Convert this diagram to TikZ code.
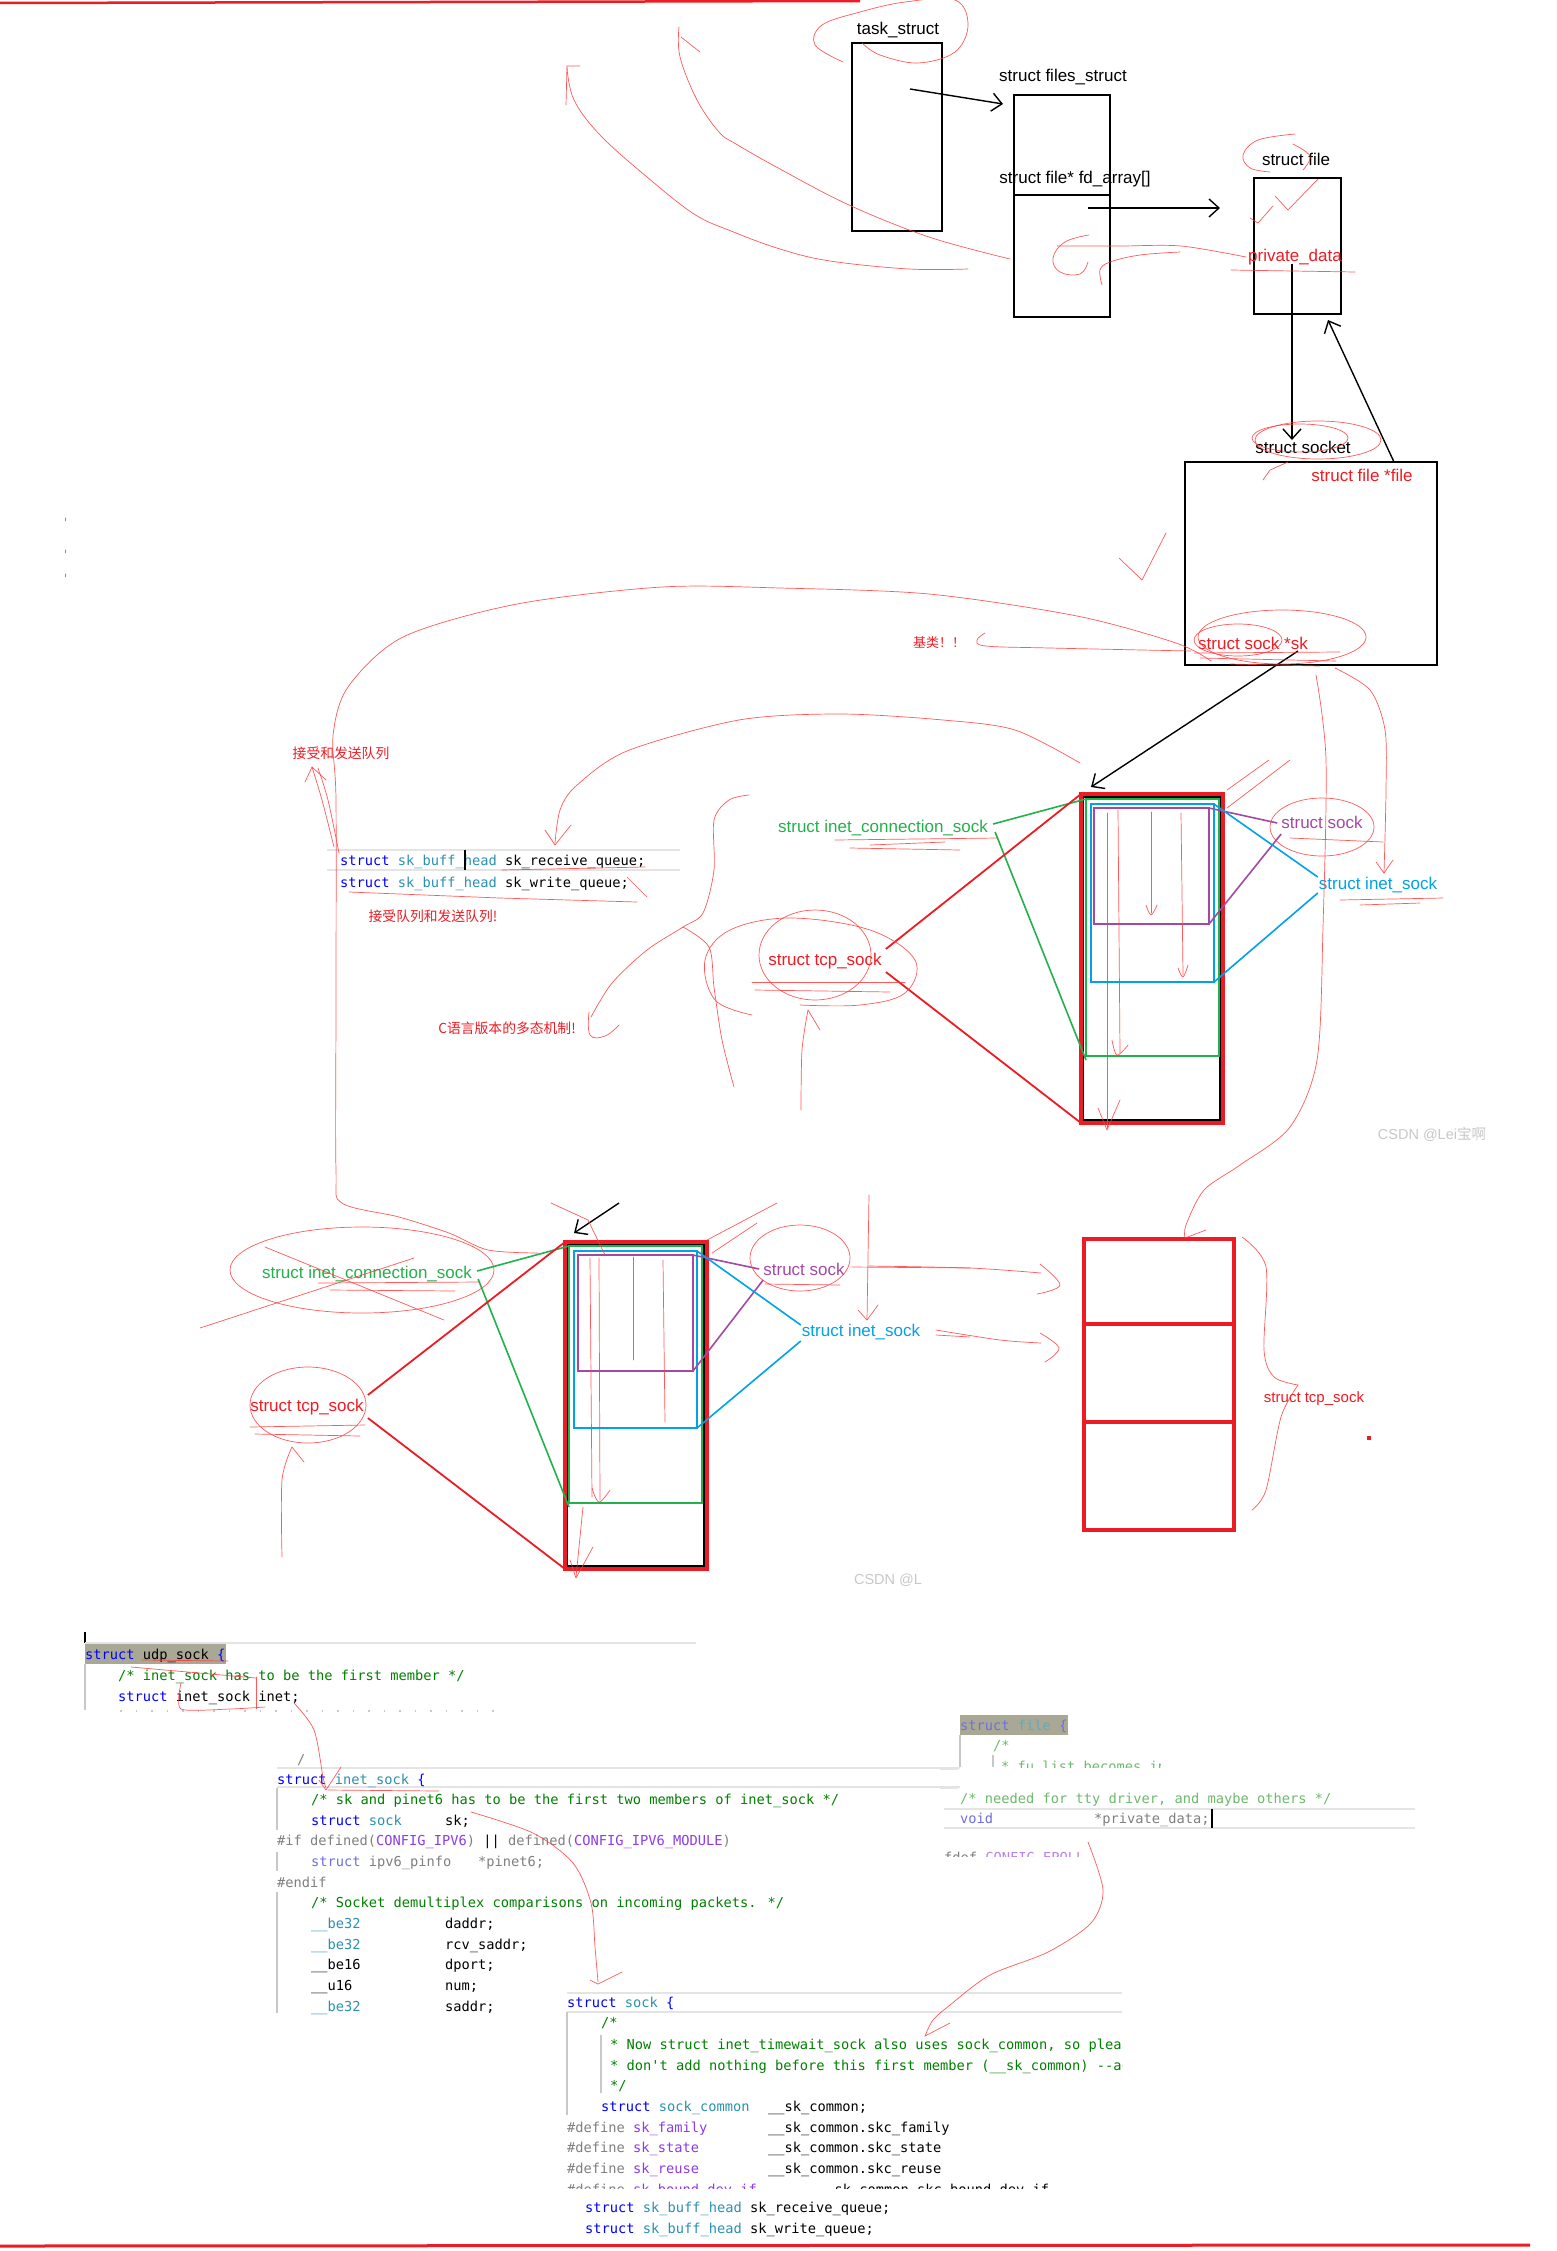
\documentclass[tikz,border=0pt]{standalone}
\usepackage{fontspec}
\setmainfont{Liberation Sans}
\newfontfamily\cjk{Noto Sans CJK SC}
\newfontfamily\monof{DejaVu Sans Mono}
\usetikzlibrary{arrows.meta}
\definecolor{pr}{RGB}{237,28,36}
\definecolor{pg}{RGB}{34,177,76}
\definecolor{pb}{RGB}{0,162,232}
\definecolor{pp}{RGB}{163,73,164}
\definecolor{scr}{RGB}{255,60,60}
\definecolor{ckw}{RGB}{0,0,255}
\definecolor{cty}{RGB}{43,145,175}
\definecolor{ccm}{RGB}{0,128,0}
\definecolor{cpp}{RGB}{128,128,128}
\definecolor{cmac}{RGB}{140,60,230}
\definecolor{fkw}{RGB}{110,110,230}
\definecolor{fty}{RGB}{100,170,190}
\definecolor{fcm}{RGB}{110,185,110}
\definecolor{fmac}{RGB}{185,130,235}
\definecolor{hl}{RGB}{168,168,148}
\definecolor{sepc}{RGB}{228,228,228}
\definecolor{barc}{RGB}{200,200,200}
\definecolor{wmc}{RGB}{200,200,200}
\newcommand\Kw[1]{\textcolor{ckw}{#1}}
\newcommand\Ty[1]{\textcolor{cty}{#1}}
\newcommand\Cm[1]{\textcolor{ccm}{#1}}
\newcommand\Pp[1]{\textcolor{cpp}{#1}}
\newcommand\Mc[1]{\textcolor{cmac}{#1}}
\begin{document}
\begin{tikzpicture}[x=1pt,y=-1pt,
  lab/.style={inner sep=0pt, text height=12.5pt, text depth=3.5pt, font=\fontsize{17}{20}\selectfont},
  cnlab/.style={inner sep=0pt, font=\cjk\fontsize{13.8}{16}\selectfont, text=pr},
  bx/.style={draw=black, line width=1.6pt, anchor=north west, outer sep=0pt, inner sep=0pt},
  thinbx/.style={draw=black, line width=1.2pt, anchor=north west, outer sep=0pt, inner sep=0pt},
  rbx/.style={draw=pr, line width=4pt, anchor=north west, outer sep=0pt, inner sep=0pt},
  gbx/.style={draw=pg, line width=2.2pt, anchor=north west, outer sep=0pt, inner sep=0pt},
  bbx/.style={draw=pb, line width=2.2pt, anchor=north west, outer sep=0pt, inner sep=0pt},
  pbx/.style={draw=pp, line width=2.2pt, anchor=north west, outer sep=0pt, inner sep=0pt},
  arr/.style={line width=1.4pt, -{Straight Barb[length=10pt,width=18pt,line width=1.4pt]}},
  scrib/.style={draw=scr, line width=0.7pt, opacity=0.85, line cap=round, line join=round},
  code/.style={inner sep=0pt, anchor=base west, font=\monof\fontsize{13.7}{16}\selectfont},
  sepl/.style={draw=sepc, line width=1.5pt},
  barl/.style={draw=barc, line width=1.5pt},
  cursor/.style={draw=black, line width=1.6pt}
]
\useasboundingbox (0,0) rectangle (1557,2251);
\fill[white] (0,0) rectangle (1557,2251);

% page edge red lines
\draw[draw=pr, line width=2.5pt] (0,3) -- (860,1);
\draw[draw=pr, line width=3pt] (0,2246) -- (1530,2245);

%================ TOP: task_struct -> files_struct -> file -> socket
\node[lab] (tsT) at (898,30) {task\_struct};
\node[bx, minimum width=90pt, minimum height=188pt] (ts) at (852,43) {};
\node[lab] (fsT) at (1063,77) {struct files\_struct};
\node[bx, minimum width=96pt, minimum height=222pt] (fs) at (1014,95) {};
\node[bx, minimum width=96pt, minimum height=122pt] (fd) at (1014,195) {};
\node[lab] (fdT) at (1075,179) {struct file* fd\_array[]};
\node[lab] (sfT) at (1296,161) {struct file};
\node[bx, minimum width=87pt, minimum height=136pt] (sf) at (1254,178) {};
\node[lab, text=pr] (pd) at (1295,257) {private\_data};
\node[lab] (sockT) at (1303,449) {struct socket};
\node[bx, minimum width=252pt, minimum height=203pt] (so) at (1185,462) {};
\node[lab, text=pr] (ff) at (1362,477) {struct file *file};
\node[lab, text=pr] (sk) at (1253,645) {struct sock *sk};
\node[cnlab, font=\cjk\fontsize{13}{15}\selectfont] (jl) at (939,643) {基类！！};

\coordinate (tsP) at (910,89);
\coordinate (fsIn) at (1003,104);
\coordinate (fdP) at (1088,208);
\coordinate (sfIn) at (1220,208);
\coordinate (pdP) at (1292,264);
\coordinate (soIn) at (1292,440);
\coordinate (ffP) at (1394,462);
\coordinate (sfBack) at (1328,320);
\coordinate (skP) at (1298,651);
\draw[arr] (tsP) -- (fsIn);
\draw[arr] (fdP) -- (sfIn);
\draw[arr] (pdP) -- (soIn);
\draw[arr] (ffP) -- (sfBack);

%================ MIDDLE layered boxes
\node[thinbx, minimum width=137pt, minimum height=323pt] (blkM) at (1083,797) {};
\node[rbx, minimum width=142pt, minimum height=329pt] (redM) at (1081,794) {};
\node[gbx, minimum width=133pt, minimum height=257pt] (grnM) at (1086,799) {};
\node[bbx, minimum width=123pt, minimum height=178pt] (bluM) at (1091,804) {};
\node[pbx, minimum width=115pt, minimum height=116pt] (purM) at (1094,808) {};
\draw[arr] (skP) -- ([xshift=10pt,yshift=7pt]redM.north west);

\node[lab, text=pg] (icsM) at (883,828) {struct inet\_connection\_sock};
\node[lab, text=pr] (tcpM) at (825,961) {struct tcp\_sock};
\node[lab, text=pp] (skM) at (1322,824) {struct sock};
\node[lab, text=pb] (isM) at (1378,885) {struct inet\_sock};
\draw[draw=pg, line width=1.6pt] ([xshift=5pt,yshift=4pt]icsM.east) -- (grnM.north west);
\draw[draw=pg, line width=1.6pt] ([xshift=7pt,yshift=-4pt]icsM.east) -- ([yshift=-4pt]grnM.south west);
\draw[draw=pr, line width=1.8pt] ([xshift=4pt,yshift=12pt]tcpM.east) -- (redM.north west);
\draw[draw=pr, line width=1.8pt] ([xshift=4pt,yshift=-11pt]tcpM.east) -- (redM.south west);
\draw[draw=pp, line width=1.6pt] ([xshift=-4pt,yshift=1pt]skM.west) -- (purM.north east);
\draw[draw=pp, line width=1.6pt] ([xshift=0pt,yshift=-10pt]skM.west) -- (purM.south east);
\draw[draw=pb, line width=1.6pt] ([xshift=-1pt,yshift=8pt]isM.west) -- (bluM.north east);
\draw[draw=pb, line width=1.6pt] ([xshift=-1pt,yshift=-8pt]isM.west) -- (bluM.south east);
\node[inner sep=0pt, text=wmc, font=\fontsize{14.5}{16}\selectfont] (wm1) at (1432,1134) {CSDN @Lei{\cjk 宝啊}};

%================ LOWER-LEFT layered boxes
\node[thinbx, minimum width=137pt, minimum height=321pt] (blkL) at (567,1245) {};
\node[rbx, minimum width=142pt, minimum height=327pt] (redL) at (565,1242) {};
\node[gbx, minimum width=133pt, minimum height=257pt] (grnL) at (569,1246) {};
\node[bbx, minimum width=123pt, minimum height=177pt] (bluL) at (574,1251) {};
\node[pbx, minimum width=115pt, minimum height=116pt] (purL) at (578,1255) {};
\coordinate (arL) at (619,1203);
\draw[arr] (arL) -- ([xshift=9pt,yshift=9pt]redL.north west);

\node[lab, text=pg] (icsL) at (367,1274) {struct inet\_connection\_sock};
\node[lab, text=pr] (tcpL) at (307,1407) {struct tcp\_sock};
\node[lab, text=pp] (skL) at (804,1271) {struct sock};
\node[lab, text=pb] (isL) at (861,1332) {struct inet\_sock};
\draw[draw=pg, line width=1.6pt] ([xshift=5pt,yshift=3pt]icsL.east) -- (grnL.north west);
\draw[draw=pg, line width=1.6pt] ([xshift=6pt,yshift=-5pt]icsL.east) -- ([yshift=-4pt]grnL.south west);
\draw[draw=pr, line width=1.8pt] ([xshift=4pt,yshift=12pt]tcpL.east) -- (redL.north west);
\draw[draw=pr, line width=1.8pt] ([xshift=4pt,yshift=-11pt]tcpL.east) -- (redL.south west);
\draw[draw=pp, line width=1.6pt] ([xshift=-4pt,yshift=2pt]skL.west) -- (purL.north east);
\draw[draw=pp, line width=1.6pt] ([xshift=0pt,yshift=-9pt]skL.west) -- (purL.south east);
\draw[draw=pb, line width=1.6pt] ([xshift=-1pt,yshift=7pt]isL.west) -- (bluL.north east);
\draw[draw=pb, line width=1.6pt] ([xshift=-1pt,yshift=-9pt]isL.west) -- (bluL.south east);
\node[inner sep=0pt, text=wmc, font=\fontsize{14.5}{16}\selectfont] (wm2) at (888,1580) {CSDN @L};

%================ LOWER-RIGHT stacked box
\node[rbx, minimum width=150pt, minimum height=85pt] (rb1) at (1084,1239) {};
\node[rbx, minimum width=150pt, minimum height=98pt] (rb2) at (1084,1324) {};
\node[rbx, minimum width=150pt, minimum height=108pt] (rb3) at (1084,1422) {};
\node[inner sep=0pt, text=pr, font=\fontsize{15}{17}\selectfont] (tcpR) at (1314,1399) {struct tcp\_sock};
\fill[pr] (1367,1436) rectangle (1371,1440);

%================ Chinese notes
\node[cnlab] (cn1) at (341,753) {接受和发送队列};
\node[cnlab] (cn2) at (433,916) {接受队列和发送队列!};
\node[cnlab] (cn3) at (507,1028) {C语言版本的多态机制!};

%================ sk_buff_head snippet
\draw[sepl] (327,850) -- (680,850);
\draw[sepl] (327,870) -- (680,870);
\node[code] (k1) at (340,865) {\Kw{struct} \Ty{sk\_buff\_head} sk\_receive\_queue;};
\node[code] (k2) at (340,887) {\Kw{struct} \Ty{sk\_buff\_head} sk\_write\_queue;};
\draw[cursor] (465,850) -- (465,870);

%================ struct udp_sock
\draw[cursor] (85,1632) -- (85,1643);
\draw[sepl] (85,1643) -- (696,1643);
\fill[hl] (85,1644) rectangle (226,1664);
\draw[barl] (85,1664) -- (85,1710);
\node[code] (u1) at (85,1659) {\Kw{struct} udp\_sock \Kw{\{}};
\node[code] (u2) at (118,1680) {\Cm{/* inet\_sock has to be the first member */}};
\node[code] (u3) at (118,1701) {\Kw{struct} inet\_sock inet;};
\draw[draw=barc, line width=1.2pt, dash pattern=on 1.5pt off 14pt] (120,1711) -- (500,1711);

%================ struct inet_sock
\node[code, text=cpp] (i0) at (297,1764) {/};
\draw[sepl] (277,1768) -- (960,1768);
\draw[sepl] (277,1787) -- (960,1787);
\draw[barl] (277,1788) -- (277,1830);
\draw[barl] (277,1852) -- (277,1871);
\draw[barl] (277,1892) -- (277,2013);
\node[code] (i1) at (277,1784) {\Kw{struct} \Ty{inet\_sock} \Kw{\{}};
\node[code] (i2) at (311,1804) {\Cm{/* sk and pinet6 has to be the first two members of inet\_sock */}};
\node[code] (i3) at (311,1825) {\Kw{struct} \Ty{sock}};
\node[code] (i3b) at (445,1825) {sk;};
\node[code] (i4) at (277,1845) {\Pp{\#if defined(}\Mc{CONFIG\_IPV6}\Pp{)} || \Pp{defined(}\Mc{CONFIG\_IPV6\_MODULE}\Pp{)}};
\node[code] (i5) at (311,1866) {\textcolor{fkw}{struct} \textcolor{cpp}{ipv6\_pinfo}};
\node[code] (i5b) at (478,1866) {\textcolor{cpp}{*pinet6;}};
\node[code] (i6) at (277,1887) {\Pp{\#endif}};
\node[code] (i7) at (311,1907) {\Cm{/* Socket demultiplex comparisons on incoming packets. */}};
\node[code] (i8) at (311,1928) {\Ty{\_\_be32}};
\node[code] (i8b) at (445,1928) {daddr;};
\node[code] (i9) at (311,1949) {\Ty{\_\_be32}};
\node[code] (i9b) at (445,1949) {rcv\_saddr;};
\node[code] (i10) at (311,1969) {\_\_be16};
\node[code] (i10b) at (445,1969) {dport;};
\node[code] (i11) at (311,1990) {\_\_u16};
\node[code] (i11b) at (445,1990) {num;};
\node[code] (i12) at (311,2011) {\Ty{\_\_be32}};
\node[code] (i12b) at (445,2011) {saddr;};

%================ struct sock
\draw[sepl] (567,1993) -- (1122,1993);
\draw[sepl] (567,2012) -- (1122,2012);
\draw[barl] (567,2012) -- (567,2115);
\draw[barl] (601,2035) -- (601,2093);
\begin{scope}
\clip (560,1985) rectangle (1122,2188);
\node[code] (s1) at (567,2007) {\Kw{struct} \Ty{sock} \Kw{\{}};
\node[code] (s2) at (601,2027) {\Cm{/*}};
\node[code] (s3) at (610,2049) {\Cm{* Now struct inet\_timewait\_sock also uses sock\_common, so please}};
\node[code] (s4) at (610,2070) {\Cm{* don't add nothing before this first member (\_\_sk\_common) --acme}};
\node[code] (s5) at (610,2090) {\Cm{*/}};
\node[code] (s6) at (601,2111) {\Kw{struct} \Ty{sock\_common}};
\node[code] (s6b) at (768,2111) {\_\_sk\_common;};
\node[code] (s7) at (567,2132) {\Pp{\#define} \Mc{sk\_family}};
\node[code] (s7b) at (768,2132) {\_\_sk\_common.skc\_family};
\node[code] (s8) at (567,2152) {\Pp{\#define} \Mc{sk\_state}};
\node[code] (s8b) at (768,2152) {\_\_sk\_common.skc\_state};
\node[code] (s9) at (567,2173) {\Pp{\#define} \Mc{sk\_reuse}};
\node[code] (s9b) at (768,2173) {\_\_sk\_common.skc\_reuse};
\node[code] (s10) at (567,2194) {\Pp{\#define} \Mc{sk\_bound\_dev\_if}};
\node[code] (s10b) at (818,2194) {\_\_sk\_common.skc\_bound\_dev\_if};
\end{scope}
\node[code] (s11) at (585,2212) {\Kw{struct} \Ty{sk\_buff\_head} sk\_receive\_queue;};
\node[code] (s12) at (585,2233) {\Kw{struct} \Ty{sk\_buff\_head} sk\_write\_queue;};

%================ struct file snippet
\fill[hl] (960,1715) rectangle (1068,1735);
\draw[barl] (960,1735) -- (960,1767);
\draw[barl] (993,1755) -- (993,1767);
\node[code] (f1) at (960,1730) {\textcolor{fkw}{struct} \textcolor{fty}{file} \textcolor{fkw}{\{}};
\node[code] (f2) at (993,1750) {\textcolor{fcm}{/*}};
\begin{scope}
\clip (940,1752) rectangle (1160,1767);
\node[code] (f3) at (1001,1771) {\textcolor{fcm}{* fu\_list becomes invalid}};
\end{scope}
\draw[sepl] (940,1769) -- (958,1769);
\draw[sepl] (940,1788) -- (958,1788);
\node[code] (f4) at (960,1803) {\textcolor{fcm}{/* needed for tty driver, and maybe others */}};
\draw[sepl] (944,1809) -- (1415,1809);
\draw[sepl] (944,1828) -- (1415,1828);
\node[code] (f5) at (960,1823) {\textcolor{fkw}{void}};
\node[code] (f5b) at (1094,1823) {\textcolor{cpp}{*private\_data;}};
\draw[cursor] (1212,1809) -- (1212,1828);
\begin{scope}
\clip (944,1840) rectangle (1200,1856);
\node[code] (f6) at (927.5,1862) {\textcolor{cpp}{\#ifdef} \textcolor{fmac}{CONFIG\_EPOLL}};
\end{scope}

%================ hand-drawn red scribbles
% around task_struct
\draw[scrib] plot[smooth, tension=0.6] coordinates {(843,62) (815,45) (822,25) (860,12) (905,2) (955,0) (968,25) (955,52) (918,63) (880,55) (862,43)};
% long curves going up-left with arrows
\draw[scrib] plot[smooth, tension=0.6] coordinates {(968,269) (909,269) (830,261) (780,249) (731,231) (694,214) (647,177) (600,135) (574,100) (567,68)};
\draw[scrib] (566,105) -- (567,66) -- (580,66);
\draw[scrib] plot[smooth, tension=0.6] coordinates {(1010,259) (929,237) (849,205) (780,169) (736,144) (719,132) (697,100) (680,57) (679,27)};
\draw[scrib] (681,37) -- (700,52);
% inside fd_array and file
\draw[scrib] plot[smooth, tension=0.5] coordinates {(1057,246) (1120,246) (1181,246) (1246,257)};
\draw[scrib] plot[smooth, tension=0.7] coordinates {(1089,235) (1065,242) (1053,258) (1060,272) (1080,274) (1088,262)};
\draw[scrib] plot[smooth, tension=0.6] coordinates {(1102,285) (1100,270) (1110,262) (1140,255) (1180,252)};
\draw[scrib] (1231,270) -- (1355,272);
\draw[scrib] (1250,218) -- (1258,223) -- (1273,206);
\draw[scrib] (1275,196) -- (1288,210) -- (1318,179);
\draw[scrib] plot[smooth, tension=0.6] coordinates {(1295,134) (1258,140) (1243,155) (1250,168) (1270,172)};
\draw[scrib] plot[smooth, tension=0.6] coordinates {(1293,144) (1310,156) (1303,170)};
% struct socket and sk ovals
\draw[scrib] (1318,440) ellipse [x radius=63pt, y radius=19pt];
\draw[scrib] (1300,438) ellipse [x radius=48pt, y radius=14pt];
\draw[scrib] (1263,480) -- (1270,470) -- (1288,462);
\draw[scrib] (1119,558) -- (1142,580) -- (1166,533);
\draw[scrib] (1282,637) ellipse [x radius=84pt, y radius=27pt];
\draw[scrib] (1238,640) ellipse [x radius=44pt, y radius=16pt];
\draw[scrib] (1194,653) -- (1340,652);
\draw[scrib] (1200,658) -- (1336,661);
\draw[scrib] (1230,664) -- (1320,666);
\draw[scrib] plot[smooth, tension=0.6] coordinates {(985,633) (977,640) (986,646) (1050,648) (1191,651)};
% curve from sk to the left edge and down
\draw[scrib] plot[smooth, tension=0.5] coordinates {(1211,661) (1176,643) (1077,616) (929,594) (780,588) (662,587) (517,604) (403,637) (348,687) (333,736) (336,800) (336,1000) (336,1170) (342,1203) (399,1217) (449,1233) (488,1250) (538,1253)};
\draw[scrib] plot[smooth, tension=0.5] coordinates {(334,847) (322,800) (312,767)};
\draw[scrib] plot[smooth, tension=0.5] coordinates {(339,853) (328,800) (318,768)};
\draw[scrib] (305,782) -- (312,767) -- (326,780);
% curve from box to sk_receive_queue
\draw[scrib] plot[smooth, tension=0.5] coordinates {(1080,763) (1015,730) (943,720) (840,714) (739,720) (627,751) (576,786) (560,810) (555,843)};
\draw[scrib] (545,830) -- (555,845) -- (571,825);
\draw[scrib] (502,870) -- (645,867);
\draw[scrib] (349,892) -- (500,898) -- (637,902);
\draw[scrib] (627,877) -- (647,897);
% polymorphism note curves
\draw[scrib] plot[smooth, tension=0.5] coordinates {(591,1017) (612,983) (647,950) (683,927) (703,913) (714,870) (714,820) (729,800) (749,795)};
\draw[scrib] plot[smooth, tension=0.5] coordinates {(683,927) (709,947) (714,987) (722,1040) (734,1087)};
\draw[scrib] plot[smooth, tension=0.7] coordinates {(589,1012) (590,1035) (605,1036) (619,1025)};
% middle tcp_sock ovals
\draw[scrib] (815,955) ellipse [x radius=56pt, y radius=45pt];
\draw[scrib] plot[smooth, tension=0.6] coordinates {(752,1015) (715,1000) (705,960) (730,930) (790,918) (870,930) (915,960) (905,993) (860,1005) (800,1005)};
\draw[scrib] (752,982) -- (905,982);
\draw[scrib] (755,990) -- (890,992);
\draw[scrib] plot[smooth, tension=0.5] coordinates {(808,1010) (802,1050) (801,1110)};
\draw[scrib] (808,1010) -- (820,1030);
% underline scribbles of middle labels
\draw[scrib] (835,840) -- (998,838);
\draw[scrib] (850,848) -- (960,850);
\draw[scrib] (870,845) -- (945,842);
\draw[scrib] (1340,900) -- (1443,898);
\draw[scrib] (1360,905) -- (1420,903);
\draw[scrib] (1322,827) ellipse [x radius=52pt, y radius=29pt];
\draw[scrib] (1290,838) -- (1383,842);
% verticals inside middle box
\draw[scrib] (1107,813) -- (1107,1128);
\draw[scrib] (1098,1108) -- (1107,1130) -- (1120,1100);
\draw[scrib] (1118,810) -- (1120,1053);
\draw[scrib] plot[smooth, tension=0.6] coordinates {(1112,1040) (1117,1055) (1128,1045)};
\draw[scrib] (1151,812) -- (1151,913);
\draw[scrib] plot[smooth, tension=0.6] coordinates {(1146,905) (1151,915) (1157,905)};
\draw[scrib] (1181,813) -- (1183,975);
\draw[scrib] plot[smooth, tension=0.6] coordinates {(1178,968) (1183,977) (1188,965)};
\draw[scrib] (1227,790) -- (1269,760);
\draw[scrib] (1227,808) -- (1290,760);
% long curves on the right
\draw[scrib] plot[smooth, tension=0.5] coordinates {(1316,675) (1326,760) (1323,927) (1317,1060) (1290,1127) (1240,1165) (1204,1190) (1186,1225) (1185,1238)};
\draw[scrib] (1185,1238) -- (1206,1230);
\draw[scrib] plot[smooth, tension=0.5] coordinates {(1335,668) (1370,690) (1385,730) (1386,790) (1384,873)};
\draw[scrib] (1376,862) -- (1384,873) -- (1393,860);
% lower-left diagram scribbles
\draw[scrib] (362,1270) ellipse [x radius=132pt, y radius=43pt];
\draw[scrib] (200,1328) -- (414,1258);
\draw[scrib] (265,1247) -- (444,1320);
\draw[scrib] (318,1283) -- (480,1282);
\draw[scrib] (330,1290) -- (455,1291);
\draw[scrib] (308,1405) ellipse [x radius=58pt, y radius=38pt];
\draw[scrib] (250,1427) -- (365,1425);
\draw[scrib] (255,1434) -- (360,1436);
\draw[scrib] plot[smooth, tension=0.5] coordinates {(292,1447) (282,1480) (282,1557)};
\draw[scrib] (292,1447) -- (304,1462);
\draw[scrib] (800,1258) ellipse [x radius=50pt, y radius=33pt];
\draw[scrib] (765,1284) -- (840,1285);
\draw[scrib] (852,1267) -- (970,1268);
\draw[scrib] (936,1335) -- (970,1337);
\draw[scrib] (590,1258) -- (592,1497);
\draw[scrib] (599,1258) -- (600,1500);
\draw[scrib] plot[smooth, tension=0.6] coordinates {(592,1488) (599,1502) (610,1490)};
\draw[scrib] (633,1257) -- (633,1360);
\draw[scrib] (663,1260) -- (665,1422);
\draw[scrib] (583,1507) -- (576,1577);
\draw[scrib] (570,1560) -- (576,1578) -- (593,1547);
\draw[scrib] (551,1203) -- (588,1220) -- (605,1255);
\draw[scrib] (707,1240) -- (777,1203);
\draw[scrib] (712,1253) -- (757,1223);
\draw[scrib] (869,1195) -- (867,1320);
\draw[scrib] (858,1310) -- (867,1320) -- (878,1305);
% arrows to the lower-right box
\draw[scrib] plot[smooth, tension=0.5] coordinates {(868,1266) (970,1268) (1041,1273)};
\draw[scrib] plot[smooth, tension=0.6] coordinates {(1040,1264) (1060,1285) (1037,1294)};
\draw[scrib] plot[smooth, tension=0.5] coordinates {(936,1330) (1000,1340) (1041,1343)};
\draw[scrib] plot[smooth, tension=0.6] coordinates {(1040,1333) (1059,1348) (1045,1362)};
% brace beside lower-right box
\draw[scrib] plot[smooth, tension=0.5] coordinates {(1242,1237) (1266,1267) (1264,1350) (1274,1377) (1298,1385)};
\draw[scrib] plot[smooth, tension=0.5] coordinates {(1298,1385) (1281,1417) (1266,1490) (1252,1510)};
% small marks at left
\draw[scrib] (65,518) -- (65,521);
\draw[scrib] (65,550) -- (65,553);
\draw[scrib] (65,574) -- (65,577);
% code scribbles
\draw[scrib] (142,1660) -- (228,1661);
\draw[scrib] (131,1667) -- (256,1678);
\draw[scrib] plot[smooth, tension=0.4] coordinates {(181,1683) (181,1709) (230,1709) (265,1707)};
\draw[scrib] (256,1677) -- (256,1709);
\draw[scrib] plot[smooth, tension=0.5] coordinates {(294,1703) (314,1730) (323,1777) (326,1788)};
\draw[scrib] (319,1780) -- (326,1790) -- (341,1767);
\draw[scrib] (328,1790) -- (439,1791);
\draw[scrib] plot[smooth, tension=0.5] coordinates {(471,1812) (533,1833) (573,1863) (591,1903) (595,1947) (598,1982)};
\draw[scrib] (590,1980) -- (598,1984) -- (622,1972);
\draw[scrib] plot[smooth, tension=0.5] coordinates {(1088,1842) (1103,1890) (1091,1923) (1048,1952) (990,1975) (950,2005) (933,2020) (925,2036)};
\draw[scrib] (925,2036) -- (950,2023);
\end{tikzpicture}
\end{document}
